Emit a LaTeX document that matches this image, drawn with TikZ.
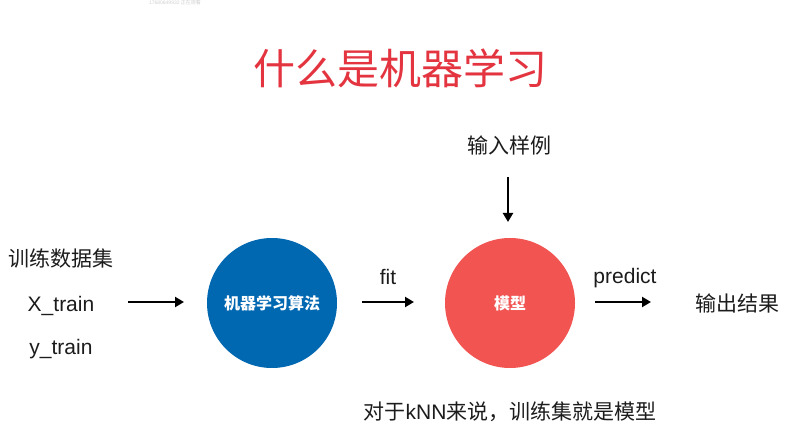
\documentclass[tikz,border=0pt]{standalone}
\usepackage{fontspec}
\setmainfont{Liberation Sans}
\newfontfamily\cjk{Noto Sans CJK SC}
\usetikzlibrary{arrows.meta}
\definecolor{titlered}{HTML}{E3343F}
\definecolor{algblue}{HTML}{0067B1}
\definecolor{modred}{HTML}{F25452}
\definecolor{txt}{HTML}{1C1C1C}
\tikzset{
  lbl/.style={text=txt, inner sep=0pt, font=\fontsize{21}{25}\selectfont},
  arr/.style={draw=black, line width=2.6pt, -{Triangle[length=9pt,width=10pt]}},
  bubble/.style={circle, draw=none, minimum size=130pt, inner sep=0pt, text=white, font=\cjk\bfseries\fontsize{16}{19}\selectfont},
}
\begin{document}
\begin{tikzpicture}[x=1pt,y=-1pt]
\useasboundingbox[fill=white] (0,0) rectangle (795,430);
\node[text=black!18, inner sep=0pt, font=\fontsize{5}{6}\selectfont] (wm) at (175,3) {17680649932 {\cjk 正在观看}};
\node[text=titlered, inner sep=0pt, font=\cjk\fontsize{42}{48}\selectfont] (title) at (400,68) {什么是机器学习};
\node[lbl, font=\cjk\fontsize{21}{25}\selectfont] (set) at (61,258) {训练数据集};
\node[lbl] (xtr) at (61,306) {X\_train};
\node[lbl] (ytr) at (61,349) {y\_train};
\node[bubble, fill=algblue] (alg) at (272,303) {机器学习算法};
\node[bubble, fill=modred] (mod) at (510,303) {模型};
\node[lbl, font=\cjk\fontsize{21}{25}\selectfont] (inp) at (509,146) {输入样例};
\node[lbl] (fit) at (388,277) {fit};
\node[lbl] (pred) at (625,278) {predict};
\node[lbl, font=\cjk\fontsize{21}{25}\selectfont] (out) at (737,303) {输出结果};
\node[lbl] (note) at (510,412) {{\cjk 对于}kNN{\cjk 来说，训练集就是模型}};
\coordinate (a1s) at (128,302);
\coordinate (a1e) at (184,302);
\coordinate (a2s) at (362,302);
\coordinate (a2e) at (414,302);
\coordinate (a3s) at (595,302);
\coordinate (a3e) at (651,302);
\coordinate (a4s) at (508,177);
\coordinate (a4e) at (508,222);
\draw[arr] (a1s) -- (a1e);
\draw[arr] (a2s) -- (a2e);
\draw[arr] (a3s) -- (a3e);
\draw[arr] (a4s) -- (a4e);
\end{tikzpicture}
\end{document}
